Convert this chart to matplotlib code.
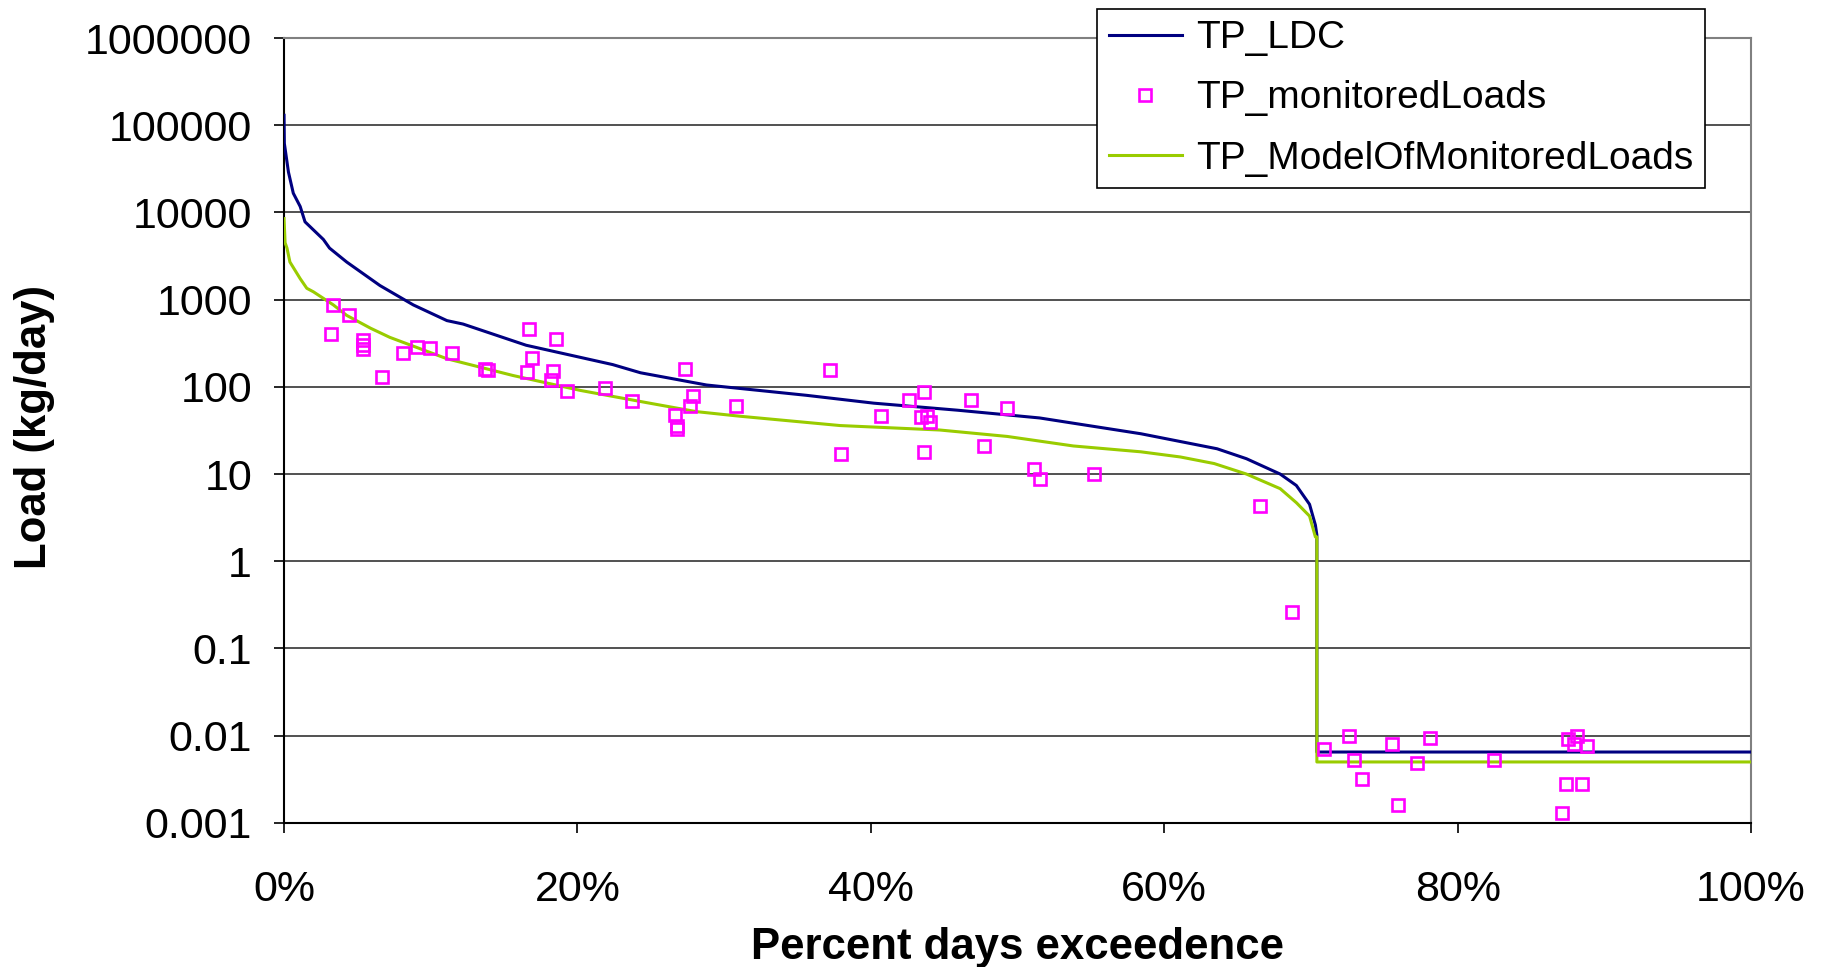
import numpy as np
import matplotlib
matplotlib.use('Agg')
import matplotlib.pyplot as plt

plt.rcParams['font.family'] = ['Liberation Sans', 'DejaVu Sans']

# load duration curve (percent days exceedence, kg/day)
ldc_x = [0, 0.02, 0.3, 0.63, 1.1, 1.43, 2.68, 3.1, 4.27, 6.54, 8.81, 11.1, 12.2,
         16.5, 22.4, 24.3, 28.8, 35.6, 40.2, 45.9, 51.5, 58.4, 63.6, 65.6, 67.9,
         69.0, 69.9, 70.3, 70.4, 70.4, 100]
ldc_y = [130000, 62000, 29000, 16600, 11700, 7800, 4900, 3900, 2700, 1450, 870, 575, 525,
         300, 180, 145, 105, 80, 65, 54, 44, 29, 19.5, 15, 10,
         7.4, 4.5, 2.6, 2.0, 0.0065, 0.0065]

model_x = [0, 0.07, 0.2, 0.4, 1.1, 1.55, 2.0, 3.36, 4.27, 5.9, 7.2, 11.1, 15.6, 20.2,
           24.7, 28.1, 31.1, 37.9, 44.7, 49.3, 53.8, 58.4, 61.1, 63.4, 65.6, 67.9,
           69.0, 69.9, 70.3, 70.4, 70.4, 100]
model_y = [8500, 4500, 3900, 2700, 1740, 1350, 1230, 870, 660, 470, 370, 210, 135, 91,
           66, 52, 46, 36, 32, 27, 21, 18, 15.7, 13.2, 10, 6.8,
           4.7, 3.3, 1.9, 1.9, 0.005, 0.005]

mon_x = [3.36, 4.45, 3.18, 5.41, 5.41, 5.41, 6.68, 8.13, 9.04, 9.97, 11.43, 13.7, 13.9,
         16.72, 16.93, 16.54, 18.54, 18.36, 18.2, 19.3, 21.9, 23.7, 27.36, 27.9, 27.7,
         26.65, 26.8, 26.8, 30.8, 37.24, 37.97, 40.7, 42.6, 43.6, 43.4, 43.8, 44.0,
         43.65, 46.8, 47.7, 49.3, 51.1, 51.5, 55.2, 66.5, 68.7, 70.9, 72.6, 72.9, 73.5,
         75.5, 75.9, 77.2, 78.1, 82.5, 87.5, 88.1, 87.9, 88.8, 87.4, 88.5, 87.1]
mon_y = [877, 660, 404, 341, 299, 269, 129, 245, 283, 281, 245, 161, 158,
         464, 214, 148, 350, 150, 121, 90, 97, 68, 161, 78, 60,
         48, 36, 33, 61, 154, 17, 46, 70, 88, 45, 46, 40,
         18, 70, 21, 57, 11.3, 8.7, 10, 4.3, 0.26, 0.0070, 0.010, 0.0053, 0.0032,
         0.0081, 0.0016, 0.0049, 0.0094, 0.0053, 0.0092, 0.010, 0.0081, 0.0076, 0.0028, 0.0028, 0.0013]

yticks = [0.001, 0.01, 0.1, 1, 10, 100, 1000, 10000, 100000, 1000000]
ytick_labels = ['0.001', '0.01', '0.1', '1', '10', '100', '1000', '10000', '100000', '1000000']
xticks = [0, 20, 40, 60, 80, 100]
xtick_labels = ['0%', '20%', '40%', '60%', '80%', '100%']

fig = plt.figure(figsize=(18.22, 9.67), dpi=100)
ax = fig.add_axes([0.1559, 0.149, 0.8052, 0.8117])

ax.plot(ldc_x, ldc_y, color='#000080', lw=2.2, label='TP_LDC', zorder=3)
ax.plot(mon_x, mon_y, ls='none', marker='s', ms=8.5, mfc='none', mec='#FF00FF',
        mew=1.9, label='TP_monitoredLoads', zorder=4)
ax.plot(model_x, model_y, color='#99CC00', lw=2.2, label='TP_ModelOfMonitoredLoads', zorder=3)

ax.set_yscale('log')
ax.set_ylim(0.001, 1000000)
ax.set_xlim(0, 100)
ax.set_yticks(yticks)
ax.set_yticklabels(ytick_labels)
ax.minorticks_off()
ax.set_xticks(xticks)
ax.set_xticklabels(xtick_labels)
ax.tick_params(axis='both', labelsize=31, direction='out', length=7, width=1.2)
ax.tick_params(axis='y', pad=16)
ax.tick_params(axis='x', pad=27)
ax.yaxis.grid(True, color='#222222', lw=1.1)
ax.set_axisbelow(True)

for s in ['top', 'right']:
    ax.spines[s].set_color('#808080')
    ax.spines[s].set_linewidth(1.5)
ax.spines['left'].set_linewidth(1.5)
ax.spines['bottom'].set_linewidth(1.5)

fig.text(0.5585, 0.02, 'Percent days exceedence', ha='center', va='center',
         fontsize=31.5, fontweight='bold')
fig.text(0.019, 0.558, 'Load (kg/day)', ha='center', va='center', rotation=90,
         fontsize=31.5, fontweight='bold')

leg = fig.legend(loc='upper left', bbox_to_anchor=(0.602, 0.991), fontsize=28,
                 fancybox=False, framealpha=1, edgecolor='black', borderpad=0.3,
                 borderaxespad=0, handlelength=1.9, labelspacing=0.62, handletextpad=0.35)
leg.get_frame().set_linewidth(1.2)

fig.savefig('out.png', dpi=100)
